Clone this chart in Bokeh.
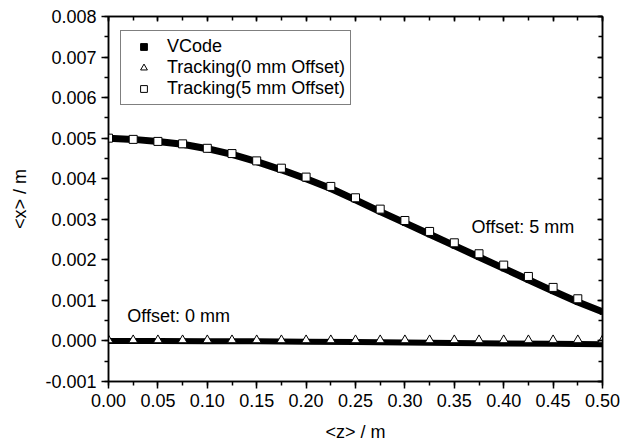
from bokeh.plotting import figure
from bokeh.models import (Range1d, LinearAxis, SingleIntervalTicker, NumeralTickFormatter,
                          Legend, LegendItem, ColumnDataSource, CustomJSTickFormatter)
from bokeh.core.properties import value
from bokeh.embed import file_html
from bokeh.resources import INLINE

# ---- data ----
z_vcode = [0.000, 0.025, 0.050, 0.075, 0.100, 0.125, 0.150, 0.175, 0.200, 0.225, 0.250,
           0.275, 0.300, 0.325, 0.350, 0.375, 0.400, 0.425, 0.450, 0.475, 0.500]
x_vcode_5mm = [0.00500, 0.00497, 0.00492, 0.00485, 0.00474, 0.00460, 0.00442, 0.00422,
               0.00400, 0.00376, 0.00348, 0.00319, 0.00291, 0.00263, 0.00235, 0.00207,
               0.00179, 0.00151, 0.00123, 0.00096, 0.00072]
z_vcode0 = [0.00, 0.05, 0.10, 0.15, 0.20, 0.25, 0.30, 0.35, 0.40, 0.45, 0.50]
x_vcode_0mm = [0.0, -0.000002, -0.000005, -0.000010, -0.000018, -0.000027,
               -0.000037, -0.000048, -0.000060, -0.000070, -0.000080]

z_track5 = [0.000, 0.025, 0.050, 0.075, 0.100, 0.125, 0.150, 0.175, 0.200, 0.225,
            0.250, 0.275, 0.300, 0.325, 0.350, 0.375, 0.400, 0.425, 0.450, 0.475]
x_track5 = [0.00500, 0.00497, 0.00492, 0.00486, 0.00475, 0.00462, 0.00444, 0.00426,
            0.00404, 0.00381, 0.00353, 0.00325, 0.00297, 0.00270, 0.00242, 0.00215,
            0.00187, 0.00159, 0.00132, 0.00104]

z_track0 = [0.000, 0.025, 0.050, 0.075, 0.100, 0.125, 0.150, 0.175, 0.200, 0.225, 0.250,
            0.275, 0.300, 0.325, 0.350, 0.375, 0.400, 0.425, 0.450, 0.475, 0.500]
x_track0 = [0.00002, 0.00002, 0.00002, 0.00002, 0.00002, 0.00002, 0.00002, 0.00002,
            0.00002, 0.00002, 0.00002, 0.00002, 0.00002, 0.00002, 0.00002, 0.00002,
            0.00002, 0.00002, 0.00002, 0.00002, 0.00002]

labels = ["VCode", "Tracking(0 mm Offset)", "Tracking(5 mm Offset)"]
annot_text = ["Offset: 5 mm", "Offset: 0 mm"]
annot_z = [0.3675, 0.019]
annot_x = [0.00281, 0.000625]

FONT = "Liberation Sans"
FS = "18px"

p = figure(frame_width=494, frame_height=365,
           x_range=Range1d(0, 0.5), y_range=Range1d(-0.001, 0.008),
           output_backend="svg", toolbar_location=None,
           min_border_left=108, min_border_right=25, min_border_top=16, min_border_bottom=60,
           background_fill_color="white", border_fill_color="white")
p.xgrid.visible = False
p.ygrid.visible = False
p.outline_line_color = "black"
p.outline_line_width = 1.5

xt = SingleIntervalTicker(interval=0.05, num_minor_ticks=2)
yt = SingleIntervalTicker(interval=0.001, num_minor_ticks=2)

def style_main(ax):
    ax.axis_line_color = "black"
    ax.axis_line_width = 1.5
    ax.major_tick_line_width = 1.5
    ax.minor_tick_line_width = 1.5
    ax.major_tick_in = 0
    ax.major_tick_out = 7
    ax.minor_tick_in = 0
    ax.minor_tick_out = 4
    ax.major_label_text_font = FONT
    ax.major_label_text_font_size = FS
    ax.major_label_text_color = "black"
    ax.axis_label_text_font = FONT
    ax.axis_label_text_font_size = FS
    ax.axis_label_text_font_style = "normal"
    ax.axis_label_text_color = "black"

xa = p.xaxis[0]
xa.ticker = xt
xa.formatter = NumeralTickFormatter(format="0.00")
xa.axis_label = "<z> / m"
style_main(xa)
xa.major_label_standoff = 5
xa.axis_label_standoff = 12

ya = p.yaxis[0]
ya.ticker = yt
ya.formatter = NumeralTickFormatter(format="0.000")
ya.axis_label = "<x> / m"
style_main(ya)
ya.major_label_standoff = 5
ya.axis_label_standoff = 12

for loc, tk in (("above", xt), ("right", yt)):
    ax = LinearAxis(ticker=tk, formatter=CustomJSTickFormatter(code="return ''"))
    ax.axis_line_color = "black"
    ax.axis_line_width = 1.5
    ax.major_tick_line_width = 1.5
    ax.minor_tick_line_width = 1.5
    ax.major_tick_in = 5
    ax.major_tick_out = 0
    ax.minor_tick_in = 4
    ax.minor_tick_out = 0
    ax.major_label_text_font_size = "1px"
    ax.major_label_text_color = None
    ax.major_label_standoff = 0
    p.add_layout(ax, loc)

# VCode: thick black curve
src_v5 = ColumnDataSource(dict(z=z_vcode, x=x_vcode_5mm))
src_v0 = ColumnDataSource(dict(z=z_vcode0, x=x_vcode_0mm))
r_vs = p.scatter("z", "x", source=src_v5, marker="square", size=5, color="black")
p.line("z", "x", source=src_v5, line_width=7, line_color="black")
p.line("z", "x", source=src_v0, line_width=6, line_color="black")

r_t0 = p.scatter(z_track0, x_track0, marker="triangle", size=9,
                 fill_color="white", line_color="black", line_width=1)
r_t5 = p.scatter(z_track5, x_track5, marker="square", size=8,
                 fill_color="white", line_color="black", line_width=1)

p.text(x=annot_z, y=annot_x, text=annot_text, text_font=value(FONT),
       text_font_size=FS, text_align="left", text_baseline="alphabetic", text_color="black")

legend = Legend(items=[LegendItem(label=labels[0], renderers=[r_vs]),
                       LegendItem(label=labels[1], renderers=[r_t0]),
                       LegendItem(label=labels[2], renderers=[r_t5])],
                location=(12, 276))
legend.label_text_font = FONT
legend.label_text_font_size = FS
legend.label_text_line_height = 0.9
legend.label_text_color = "black"
legend.border_line_color = "black"
legend.border_line_width = 1
legend.padding = 5
legend.spacing = 0
legend.glyph_width = 35
legend.glyph_height = 17
legend.label_height = 20
legend.label_standoff = 6
legend.margin = 0
legend.background_fill_alpha = 1
p.add_layout(legend, "center")

open("out.html", "w").write(file_html(p, INLINE))
